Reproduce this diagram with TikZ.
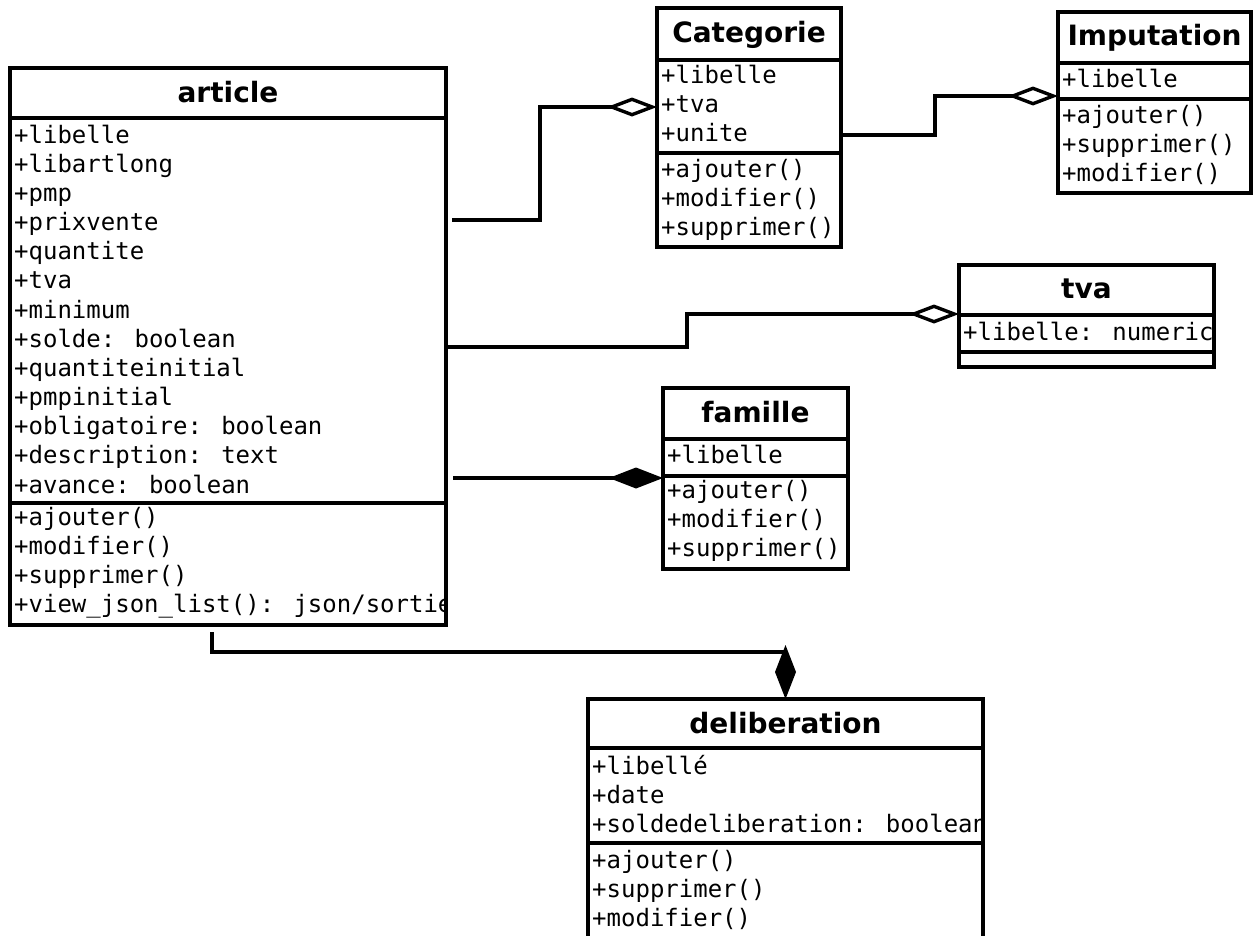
\documentclass[tikz,border=0pt]{standalone}
\usepackage{fontspec}
\setmainfont{DejaVu Sans}
\newfontfamily\monofont{DejaVu Sans Mono}
\usetikzlibrary{arrows.meta,calc}
\tikzset{
  classbox/.style={draw, line width=3.4pt, inner sep=0pt, outer sep=0pt, anchor=north west},
  sepline/.style={line width=3.4pt},
  ctitle/.style={font=\fontsize{28}{32}\selectfont\bfseries, anchor=base, inner sep=0pt},
  member/.style={font=\monofont\fontsize{24}{29}\selectfont, anchor=base west, inner sep=0pt},
  conn/.style={line width=3.4pt},
  agg/.style={conn, -{Diamond[open, length=50pt, width=19pt]}},
  comp/.style={conn, -{Diamond[length=54pt, width=21pt]}},
}
\begin{document}
\begin{tikzpicture}[x=1pt, y=-1pt]
\useasboundingbox (0,0) rectangle (1255,935);
\clip (0,0) rectangle (1255,935);

% ---- article
\node[classbox, minimum width=436pt, minimum height=557pt] (article) at (10,68) {};
\draw[sepline] (article.west |- 0,118) -- (article.east |- 0,118);
\draw[sepline] (article.west |- 0,503) -- (article.east |- 0,503);
\node[ctitle] (article-t) at (article.north |- 0,102) {article};
\begin{scope}
\clip (article.north west) rectangle ($(article.south east)+(-1.7,0)$);
\foreach \t [count=\i from 0] in {+libelle,+libartlong,+pmp,+prixvente,+quantite,+tva,+minimum,+solde: boolean,+quantiteinitial,+pmpinitial,+obligatoire: boolean,+description: text,+avance: boolean}
  \node[member] (article-a\i) at (14,{143+29.17*\i}) {\t};
\foreach \t [count=\i from 0] in {+ajouter(),+modifier(),+supprimer(),+view\_json\_list(): json/sortie}
  \node[member] (article-m\i) at (14,{525+29.17*\i}) {\t};
\end{scope}

% ---- Categorie
\node[classbox, minimum width=184pt, minimum height=239pt] (cat) at (657,8) {};
\draw[sepline] (cat.west |- 0,60) -- (cat.east |- 0,60);
\draw[sepline] (cat.west |- 0,153) -- (cat.east |- 0,153);
\node[ctitle] (cat-t) at (cat.north |- 0,42) {Categorie};
\foreach \t [count=\i from 0] in {+libelle,+tva,+unite}
  \node[member] (cat-a\i) at (661,{83+29.17*\i}) {\t};
\foreach \t [count=\i from 0] in {+ajouter(),+modifier(),+supprimer()}
  \node[member] (cat-m\i) at (661,{177+29.17*\i}) {\t};

% ---- Imputation
\node[classbox, minimum width=193pt, minimum height=181pt] (imp) at (1058,12) {};
\draw[sepline] (imp.west |- 0,63) -- (imp.east |- 0,63);
\draw[sepline] (imp.west |- 0,99) -- (imp.east |- 0,99);
\node[ctitle] (imp-t) at (imp.north |- 0,45) {Imputation};
\node[member] (imp-a0) at (1062,87) {+libelle};
\foreach \t [count=\i from 0] in {+ajouter(),+supprimer(),+modifier()}
  \node[member] (imp-m\i) at (1062,{123+29.17*\i}) {\t};

% ---- tva
\node[classbox, minimum width=255pt, minimum height=102pt] (tva) at (959,265) {};
\draw[sepline] (tva.west |- 0,315) -- (tva.east |- 0,315);
\draw[sepline] (tva.west |- 0,352) -- (tva.east |- 0,352);
\node[ctitle] (tva-t) at (tva.north |- 0,298) {tva};
\node[member] (tva-a0) at (963,340) {+libelle: numeric};

% ---- famille
\node[classbox, minimum width=185pt, minimum height=181pt] (fam) at (663,388) {};
\draw[sepline] (fam.west |- 0,439) -- (fam.east |- 0,439);
\draw[sepline] (fam.west |- 0,476) -- (fam.east |- 0,476);
\node[ctitle] (fam-t) at (fam.north |- 0,422) {famille};
\node[member] (fam-a0) at (667,463) {+libelle};
\foreach \t [count=\i from 0] in {+ajouter(),+modifier(),+supprimer()}
  \node[member] (fam-m\i) at (667,{498+29.17*\i}) {\t};

% ---- deliberation
\node[classbox, minimum width=395pt, minimum height=252pt] (delib) at (588,699) {};
\draw[sepline] (delib.west |- 0,748) -- (delib.east |- 0,748);
\draw[sepline] (delib.west |- 0,843) -- (delib.east |- 0,843);
\node[ctitle] (delib-t) at (delib.north |- 0,733) {deliberation};
\begin{scope}
\clip (delib.north west) rectangle ($(delib.south east)+(-1.7,0)$);
\foreach \t [count=\i from 0] in {+libellé,+date,+soldedeliberation: boolean}
  \node[member] (delib-a\i) at (592,{774+29.17*\i}) {\t};
\foreach \t [count=\i from 0] in {+ajouter(),+supprimer(),+modifier()}
  \node[member] (delib-m\i) at (592,{868+29.17*\i}) {\t};
\end{scope}

% ---- connectors
\draw[agg] ($(article.east |- 0,220)+(6,0)$) -- (540,220) -- (540,107) -- (cat.west |- 0,107);
\draw[agg] (cat.east |- 0,135) -- (935,135) -- (935,96) -- (imp.west |- 0,96);
\draw[agg] (article.east |- 0,347) -- (687,347) -- (687,314) -- (tva.west |- 0,314);
\draw[comp] ($(article.east |- 0,478)+(7,0)$) -- (fam.west |- 0,478);
\draw[comp] ($(article.south)+(-16,7)$) -- ($(article.south)+(-16,27)$) -- (delib.north |- 0,652) -- (delib.north);
\end{tikzpicture}
\end{document}
